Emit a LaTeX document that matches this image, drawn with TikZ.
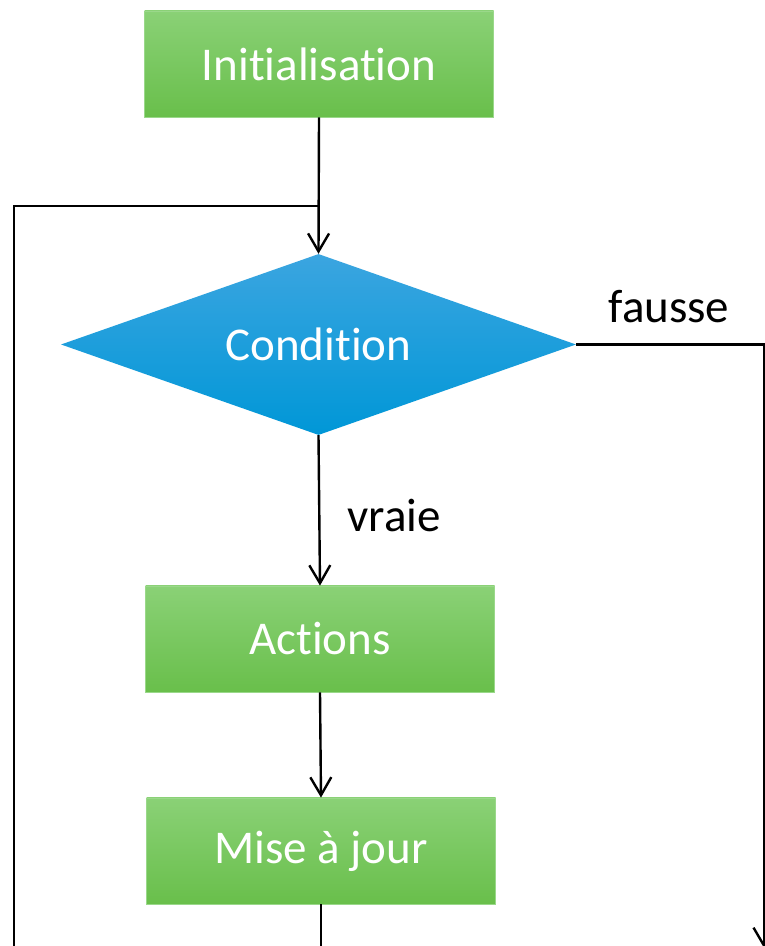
\documentclass[tikz,border=0pt]{standalone}
\usepackage{fontspec}
\setmainfont{Carlito}[Ligatures={NoCommon}]
\usetikzlibrary{shapes.geometric,arrows.meta}
\definecolor{gtop}{HTML}{8AD176}
\definecolor{gbot}{HTML}{69BF4B}
\definecolor{gedge}{HTML}{9AD88A}
\definecolor{btop}{HTML}{3BA5E0}
\definecolor{bbot}{HTML}{0097D7}
\tikzset{
  x=1pt,y=1pt,
  greenbox/.style={rectangle, top color=gtop, bottom color=gbot, draw=gedge, line width=0.8pt,
    minimum width=349pt, minimum height=106pt, inner sep=0pt, text=white, font=\fontsize{47}{51}\selectfont},
  bluedia/.style={diamond, aspect=2.845, top color=btop, bottom color=bbot, draw=none,
    minimum width=515pt, minimum height=181pt, inner sep=0pt, text=white, font=\fontsize{47}{51}\selectfont},
  conn/.style={line width=2.4pt, draw=black},
  arr/.style={conn, -{Straight Barb[length=18pt,width=21pt,line width=2.4pt]}},
  lbl/.style={font=\fontsize{47}{51}\selectfont, text=black, inner sep=0pt}
}
\begin{document}
\begin{tikzpicture}
\useasboundingbox (0,0) rectangle (765,946);
\clip (0,0) rectangle (765,946);
\fill[white] (0,0) rectangle (765,946);
\node[greenbox] (init) at (319,882) {Initialisation};
\node[bluedia] (cond) at (318.5,601.5) {Condition};
\node[greenbox] (act) at (320,307) {Actions};
\node[greenbox] (maj) at (321,95) {Mise à jour};
\node[lbl] (faux) at (669,639) {fausse};
\node[lbl] (vrai) at (394,430) {vraie};
\coordinate (join) at (319,740);
\coordinate (lt) at (14,740);
\coordinate (lb) at (14,-60);
\coordinate (bot) at (321,-60);
\coordinate (rb) at (764,-2);
\draw[arr] (init.south) -- (cond.north);
\draw[conn] (maj.south) -- (bot) -- (lb) -- (lt) -- (join);
\draw[arr] (cond.south) -- (act.north);
\draw[arr] (act.south) -- (maj.north);
\draw[arr] (cond.east) -| (rb);
\end{tikzpicture}
\end{document}
